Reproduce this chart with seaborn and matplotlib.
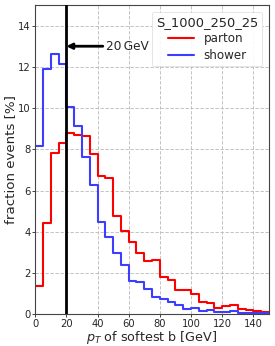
import numpy as np
import pandas as pd
import matplotlib
matplotlib.use("Agg")
import matplotlib.pyplot as plt
import seaborn as sns

bin_edges = list(range(0, 155, 5))
parton = [1.37, 4.42, 7.81, 8.33, 8.78, 8.68, 8.63, 7.78, 6.70, 6.63,
          4.76, 4.04, 3.50, 2.97, 2.59, 2.63, 1.82, 1.66, 1.16, 1.18,
          1.00, 0.62, 0.56, 0.32, 0.40, 0.43, 0.27, 0.22, 0.17, 0.12]
shower = [8.16, 11.88, 12.62, 12.12, 10.04, 9.12, 7.63, 6.29, 4.49, 3.77,
          2.98, 2.38, 1.62, 1.56, 1.25, 0.82, 0.76, 0.58, 0.43, 0.28,
          0.29, 0.17, 0.19, 0.10, 0.12, 0.14, 0.06, 0.05, 0.04, 0.04]
series_names = ["parton", "shower"]
legend_title = "S_1000_250_25"
cut_value = 20
cut_label = "20\u2009GeV"
x_ticks = [0, 20, 40, 60, 80, 100, 120, 140]
y_ticks = [0, 2, 4, 6, 8, 10, 12, 14]

centers = [(a + b) / 2 for a, b in zip(bin_edges[:-1], bin_edges[1:])]
df = pd.DataFrame({
    "pt": centers * 2,
    "w": parton + shower,
    "sample": ["parton"] * len(parton) + ["shower"] * len(shower),
})

sns.set_style("ticks")
plt.rcParams['font.family'] = ['DejaVu Sans']

fig = plt.figure(figsize=(2.75, 3.46), dpi=100)
ax = fig.add_axes([0.128, 0.0916, 0.850, 0.894])

colors = {"parton": "#ff0000", "shower": "#3d3dff"}
for name in series_names:
    sub = df[df["sample"] == name]
    sns.histplot(data=sub, x="pt", weights="w", bins=bin_edges,
                 element="step", fill=False, color=colors[name],
                 linewidth=1.5, ax=ax, label=name)

ax.axvline(cut_value, color="black", linewidth=2.0, zorder=5)
ax.annotate(cut_label, xy=(cut_value, 13), xytext=(45.5, 13),
            fontsize=8.7, va="center", ha="left",
            arrowprops=dict(arrowstyle="-|>", color="black", lw=2.0,
                            mutation_scale=8, shrinkA=0, shrinkB=0))

ax.set_xlim(0, 150)
ax.set_ylim(0, 15)
ax.set_xticks(x_ticks)
ax.set_yticks(y_ticks)
ax.tick_params(labelsize=7.2, length=2, width=0.6, pad=1.5)
ax.grid(True, linestyle=(0, (4, 2)), color="#b8b8b8", linewidth=0.6)
for s in ax.spines.values():
    s.set_visible(True)
    s.set_color("#444444")
    s.set_linewidth(0.8)

ax.set_xlabel("$p_T$ of softest b [GeV]", fontsize=9.2, labelpad=0.0)
ax.set_ylabel("fraction events [%]", fontsize=9.6, labelpad=0.5)

leg = ax.legend(title=legend_title, loc="upper right", fontsize=8.6,
                title_fontsize=9.4, frameon=True, framealpha=0.9,
                handlelength=2.2, handletextpad=0.8, borderaxespad=0.55,
                borderpad=0.35, labelspacing=0.3)
leg.get_frame().set_edgecolor("#dddddd")
leg.get_frame().set_linewidth(0.6)

fig.savefig("out.png", dpi=100)
